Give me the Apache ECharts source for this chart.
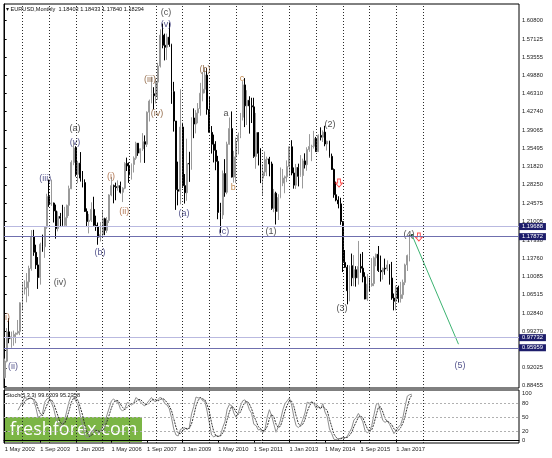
<!DOCTYPE html>
<html><head><meta charset="utf-8">
<script src="https://cdn.jsdelivr.net/npm/echarts@6/dist/echarts.min.js"></script>
<style>html,body{margin:0;padding:0;background:#fff}#c{width:552px;height:458px}</style>
</head><body><div id="c"></div>
<script>
// Monthly EURUSD, May 2002 .. Aug 2017 (index 0 = May 2002)
const openP=[
0.9010,0.9335,0.9915,0.9780,0.9820,0.9865,0.9890,0.9925,
1.0490,1.0765,1.0790,1.0905,1.1170,1.1795,1.1490,1.1240,1.0990,1.1650,1.1600,1.1990,
1.2595,1.2450,1.2465,1.2310,1.1960,1.2200,1.2165,1.2025,1.2175,1.2420,1.2750,1.3270,
1.3555,1.3035,1.3255,1.2960,1.2870,1.2300,1.2100,1.2125,1.2340,1.2025,1.1995,1.1790,
1.1840,1.2155,1.1925,1.2120,1.2625,1.2810,1.2790,1.2770,1.2810,1.2680,1.2760,1.3250,
1.3200,1.3020,1.3230,1.3355,1.3650,1.3455,1.3540,1.3680,1.3630,1.4265,1.4485,1.4630,
1.4590,1.4860,1.5180,1.5790,1.5590,1.5550,1.5750,1.5605,1.4670,1.4090,1.2730,1.2700,
1.3970,1.2810,1.2670,1.3250,1.3240,1.4150,1.4030,1.4250,1.4335,1.4640,1.4720,1.5000,
1.4320,1.3865,1.3630,1.3510,1.3290,1.2280,1.2230,1.3050,1.2680,1.3630,1.3940,1.2980,
1.3380,1.3690,1.3810,1.4165,1.4805,1.4390,1.4500,1.4390,1.4370,1.3390,1.3860,1.3450,
1.2960,1.3080,1.3330,1.3340,1.3240,1.2360,1.2660,1.2300,1.2575,1.2860,1.2960,1.2985,
1.3190,1.3580,1.3060,1.2820,1.3170,1.2995,1.3010,1.3300,1.3225,1.3525,1.3585,1.3590,
1.3745,1.3485,1.3805,1.3770,1.3870,1.3635,1.3690,1.3390,1.3130,1.2630,1.2525,1.2450,
1.2100,1.1290,1.1195,1.0730,1.1225,1.0985,1.1145,1.0985,1.1210,1.1175,1.1005,1.0565,
1.0860,1.0830,1.0870,1.1380,1.1450,1.1130,1.1105,1.1175,1.1160,1.1240,1.0980,1.0585,
1.0520,1.0795,1.0575,1.0650,1.0895,1.1240,1.1425,1.18403];
const highP=[
0.9385,0.9990,1.0185,0.9920,0.9940,0.9900,1.0150,1.0500,
1.0875,1.0935,1.1080,1.1225,1.1930,1.1935,1.1640,1.1395,1.1680,1.1840,1.1995,1.2650,
1.2930,1.2930,1.2475,1.2435,1.2300,1.2270,1.2430,1.2390,1.2435,1.2810,1.3310,1.3665,
1.3590,1.3300,1.3475,1.3100,1.2935,1.2360,1.2250,1.2480,1.2590,1.2215,1.2080,1.2090,
1.2325,1.2175,1.2190,1.2640,1.2980,1.2830,1.2870,1.2915,1.2890,1.2780,1.3275,1.3365,
1.3270,1.3250,1.3390,1.3680,1.3640,1.3545,1.3850,1.3805,1.4280,1.4515,1.4965,1.4760,
1.4930,1.5240,1.5905,1.6020,1.5820,1.5820,1.6040,1.5620,1.4865,1.4090,1.3285,1.4720,
1.4055,1.3040,1.3740,1.3480,1.4165,1.4340,1.4305,1.4445,1.4845,1.5060,1.5145,1.5140,
1.4580,1.3990,1.3820,1.3690,1.3400,1.2470,1.3110,1.3335,1.3680,1.4160,1.4280,1.3500,
1.3760,1.3860,1.4250,1.4880,1.4940,1.4700,1.4580,1.4550,1.4550,1.4250,1.3870,1.3550,
1.3235,1.3485,1.3385,1.3380,1.3285,1.2745,1.2690,1.2640,1.3170,1.3140,1.3010,1.3310,
1.3590,1.3710,1.3170,1.3240,1.3245,1.3415,1.3345,1.3450,1.3570,1.3830,1.3620,1.3895,
1.3775,1.3825,1.3965,1.3905,1.3995,1.3700,1.3700,1.3445,1.3150,1.2890,1.2600,1.2570,
1.2110,1.1535,1.1240,1.1230,1.1465,1.1435,1.1215,1.1715,1.1460,1.1495,1.1095,1.1060,
1.0985,1.1375,1.1410,1.1465,1.1615,1.1425,1.1185,1.1365,1.1330,1.1255,1.1300,1.0675,
1.0830,1.0830,1.0905,1.0950,1.1265,1.1445,1.1845,1.18433];
const lowP=[
0.8990,0.9310,0.9690,0.9600,0.9640,0.9690,0.9860,0.9850,
1.0335,1.0655,1.0500,1.0620,1.1125,1.1420,1.1160,1.0765,1.0850,1.1500,1.1380,1.1955,
1.2390,1.2410,1.2080,1.1760,1.1905,1.1990,1.2000,1.2010,1.2000,1.2210,1.2740,1.3215,
1.2990,1.2860,1.2890,1.2775,1.2290,1.1990,1.1865,1.2090,1.2000,1.1915,1.1640,1.1705,
1.1800,1.1830,1.1875,1.2070,1.2600,1.2460,1.2520,1.2710,1.2655,1.2485,1.2740,1.3100,
1.2865,1.2930,1.3070,1.3320,1.3400,1.3265,1.3500,1.3260,1.3575,1.4080,1.4440,1.4320,
1.4440,1.4510,1.5150,1.5530,1.5290,1.5300,1.5560,1.4430,1.3880,1.2330,1.2420,1.2440,
1.2765,1.2455,1.2510,1.2885,1.3125,1.3750,1.3845,1.4045,1.4195,1.4480,1.4640,1.4215,
1.3860,1.3445,1.3270,1.3115,1.2145,1.1875,1.2150,1.2590,1.2640,1.3620,1.2970,1.2870,
1.2860,1.3430,1.3750,1.4100,1.3970,1.4010,1.3840,1.4050,1.3360,1.3145,1.3210,1.2860,
1.2625,1.3000,1.3000,1.2995,1.2330,1.2285,1.2040,1.2130,1.2560,1.2800,1.2660,1.2880,
1.3000,1.3015,1.2750,1.2745,1.2795,1.2985,1.2755,1.3150,1.3105,1.3480,1.3295,1.3545,
1.3480,1.3475,1.3705,1.3675,1.3590,1.3505,1.3365,1.3125,1.2570,1.2500,1.2360,1.2035,
1.1100,1.1180,1.0460,1.0520,1.0820,1.0820,1.0810,1.0850,1.1085,1.0895,1.0560,1.0525,
1.0710,1.0810,1.0820,1.1215,1.1100,1.0910,1.0950,1.1045,1.1120,1.0850,1.0550,1.0340,
1.0340,1.0495,1.0495,1.0570,1.0840,1.1120,1.1310,1.17840];
const closeP=[
0.9335,0.9915,0.9780,0.9820,0.9865,0.9890,0.9925,1.0490,
1.0765,1.0790,1.0905,1.1170,1.1795,1.1490,1.1240,1.0990,1.1650,1.1600,1.1990,1.2595,
1.2450,1.2465,1.2310,1.1960,1.2200,1.2165,1.2025,1.2175,1.2420,1.2750,1.3270,1.3555,
1.3035,1.3255,1.2960,1.2870,1.2300,1.2100,1.2125,1.2340,1.2025,1.1995,1.1790,1.1840,
1.2155,1.1925,1.2120,1.2625,1.2810,1.2790,1.2770,1.2810,1.2680,1.2760,1.3250,1.3200,
1.3020,1.3230,1.3355,1.3650,1.3455,1.3540,1.3680,1.3630,1.4265,1.4485,1.4630,1.4590,
1.4860,1.5180,1.5790,1.5590,1.5550,1.5750,1.5605,1.4670,1.4090,1.2730,1.2700,1.3970,
1.2810,1.2670,1.3250,1.3240,1.4150,1.4030,1.4250,1.4335,1.4640,1.4720,1.5000,1.4320,
1.3865,1.3630,1.3510,1.3290,1.2280,1.2230,1.3050,1.2680,1.3630,1.3940,1.2980,1.3380,
1.3690,1.3810,1.4165,1.4805,1.4390,1.4500,1.4390,1.4370,1.3390,1.3860,1.3450,1.2960,
1.3080,1.3330,1.3340,1.3240,1.2360,1.2660,1.2300,1.2575,1.2860,1.2960,1.2985,1.3190,
1.3580,1.3060,1.2820,1.3170,1.2995,1.3010,1.3300,1.3225,1.3525,1.3585,1.3590,1.3745,
1.3485,1.3805,1.3770,1.3870,1.3635,1.3690,1.3390,1.3130,1.2630,1.2525,1.2450,1.2100,
1.1290,1.1195,1.0730,1.1225,1.0985,1.1145,1.0985,1.1210,1.1175,1.1005,1.0565,1.0860,
1.0830,1.0870,1.1380,1.1450,1.1130,1.1105,1.1175,1.1160,1.1240,1.0980,1.0585,1.0520,
1.0795,1.0575,1.0650,1.0895,1.1240,1.1425,1.1840,1.18294];
// Stochastic (5,3,3) main and signal lines, read per bar
const stochK=[
null,null,null,null,null,null,65,74,
82,93,88,90,91,86,71,50,52,58,82,89,
91,81,69,49,38,30,37,45,65,84,96,94,
84,76,53,36,12,6,8,20,23,24,16,18,
30,39,55,70,85,89,83,82,68,63,68,81,
80,76,80,92,88,83,77,74,80,86,92,85,
83,88,93,88,79,76,68,49,25,12,10,24,
26,28,23,28,57,73,93,91,92,85,84,63,
38,12,8,11,9,11,28,40,67,77,75,59,
50,59,74,85,87,80,66,58,35,32,23,24,
17,24,50,66,53,35,18,30,44,65,79,85,
91,76,51,32,28,32,45,59,82,80,83,79,
69,71,68,79,61,51,25,15,3,2,4,5,
7,6,9,18,27,44,49,58,50,40,21,17,
20,32,55,77,80,60,43,39,42,35,25,15,
22,29,34,49,73,95,98,99];
const stochD=[
null,null,null,null,null,null,null,null,
74,83,88,90,90,89,83,69,58,53,64,76,
87,87,80,66,52,39,35,37,49,65,82,91,
91,85,71,55,34,18,9,11,17,22,21,19,
21,29,41,55,70,81,86,85,78,71,66,71,
76,79,79,83,87,88,83,78,77,80,86,88,
87,85,88,90,87,81,74,64,47,29,16,15,
20,26,26,26,36,53,74,86,92,89,87,77,
62,38,19,10,9,10,16,26,45,61,73,70,
61,56,61,73,82,84,78,68,53,42,30,26,
21,22,30,47,56,51,35,28,31,46,63,76,
85,84,73,53,37,31,35,45,62,74,82,81,
77,73,69,73,69,64,46,30,14,7,3,4,
5,6,7,11,18,30,40,50,52,49,37,26,
19,23,36,55,71,72,61,47,41,39,34,25,
21,22,28,37,52,72,89,97];
const priceTicks=['1.60800','1.57125','1.53555','1.49880','1.46310','1.42740','1.39065','1.35495','1.31820','1.28250','1.24575','1.21005','1.17330','1.13760','1.10085','1.06515','1.02840','0.99270','0.95595','0.92025','0.88455'];
const stochTicks=[0,20,50,80,100];
const stochLevels=[20,50,80];
const dateTickIdx=[0,16,32,48,64,80,96,112,128,144,160,176];
const dateTicks=['1 May 2002','1 Sep 2003','1 Jan 2005','1 May 2006','1 Sep 2007','1 Jan 2009','1 May 2010','1 Sep 2011','1 Jan 2013','1 May 2014','1 Sep 2015','1 Jan 2017'];
const yearLineIdx=[8,20,32,44,56,68,80,92,104,116,128,140,152,164,176,188];
const hLineValues=[1.19688,1.17872,0.97732,0.95959];
const hLineColors=['#b9b9e0','#6f6fae','#b9b9e0','#6f6fae'];
const waveText=['(c)','(v)','(iii)','(iv)','(b)','a','c','(2)','(a)','(v)','(iii)','(i)','(ii)','(a)','b','(c)','(1)','(b)','(4)','(iv)','(3)','i)','(5)','(ii)'];
const waveX=[72.5,72.5,65.3,68.5,90.1,99.5,106.7,146.2,31.6,31.6,18.2,47.8,53.7,80.6,102.7,98.6,119.7,42.9,181.7,24.9,151.6,1.3,204.7,3.8];
const waveY=[1.6229,1.5991,1.4902,1.4248,1.5100,1.4229,1.4941,1.4011,1.3951,1.3674,1.2961,1.3000,1.2307,1.2267,1.2782,1.1911,1.1911,1.1495,1.1852,1.0901,1.0386,1.0208,0.9258,0.9238];
const waveColor=['#222','#2a2a70','#7a4a20','#7a4a20','#7a4a20','#222','#b06a20','#222','#222','#2a2a70','#2a2a70','#a0582a','#a0582a','#2a2a70','#b06a20','#2a2a70','#222','#2a2a70','#222','#222','#222','#a0582a','#2a2a70','#2a2a70'];
const trendX=[183,204];
const trendY=[1.1843,0.967];
const arrowX=[150.3,186.2];
const arrowY=[1.2862,1.1793];

const FONT='Liberation Sans';
const chart=echarts.init(document.getElementById('c'),null,{renderer:'canvas'});
const candles=openP.map((o,i)=>[i,o,closeP[i],lowP[i],highP[i]]);
const xMin=-0.3,xMax=231.2;
const yearLines=yearLineIdx.map(v=>({xAxis:v}));
const gridLineStyle={color:'#2a2a2a',width:1,type:[1,2]};
const AX=5.8;
chart.setOption({
  animation:false,
  backgroundColor:'#fff',
  grid:[
    {left:4,right:33,top:4,height:384,show:true,borderColor:'#000',borderWidth:1,backgroundColor:'#fff'},
    {left:4,right:33,top:390,height:53,show:true,borderColor:'#000',borderWidth:1,backgroundColor:'#fff'}
  ],
  xAxis:[
    {type:'value',gridIndex:0,min:xMin,max:xMax,axisLine:{show:false},axisTick:{show:false},axisLabel:{show:false},splitLine:{show:false}},
    {type:'value',gridIndex:1,min:xMin,max:xMax,axisLine:{show:true,lineStyle:{color:'#000'}},
     axisTick:{show:true,customValues:dateTickIdx,length:2,lineStyle:{color:'#000'}},
     axisLabel:{show:true,customValues:dateTickIdx,formatter:v=>dateTicks[dateTickIdx.indexOf(v)]||'',align:'left',fontSize:AX,fontFamily:FONT,color:'#222',margin:3},
     splitLine:{show:false}}
  ],
  yAxis:[
    {type:'value',gridIndex:0,position:'right',min:0.8803,max:1.6407,
     axisLine:{show:true,lineStyle:{color:'#000'}},
     axisTick:{show:true,customValues:priceTicks.map(Number),length:2,lineStyle:{color:'#000'}},
     axisLabel:{show:true,customValues:priceTicks.map(Number),formatter:v=>v.toFixed(5),fontSize:AX,fontFamily:FONT,color:'#222',margin:3},
     splitLine:{show:false}},
    {type:'value',gridIndex:1,position:'right',min:-5,max:108,
     axisLine:{show:true,lineStyle:{color:'#000'}},
     axisTick:{show:true,customValues:stochTicks,length:2,lineStyle:{color:'#000'}},
     axisLabel:{show:true,customValues:stochTicks,formatter:v=>String(v),fontSize:AX,fontFamily:FONT,color:'#222',margin:3},
     splitLine:{show:false}}
  ],
  series:[
    {type:'candlestick',xAxisIndex:0,yAxisIndex:0,data:candles,encode:{x:0,y:[1,2,3,4]},barWidth:1.4,
     itemStyle:{color:'#9a9a9a',color0:'#000',borderColor:'#9a9a9a',borderColor0:'#000',borderWidth:1},
     markLine:{silent:true,symbol:'none',animation:false,
       data:yearLines.map(d=>Object.assign({lineStyle:gridLineStyle,label:{show:false}},d)).concat(
         hLineValues.map((v,i)=>({yAxis:v,lineStyle:{color:hLineColors[i],width:1,type:'solid'},
           label:{show:true,position:'end',distance:0,formatter:v.toFixed(5),color:'#fff',backgroundColor:'#1d1d6b',padding:[1,3,0,3],fontSize:AX,fontFamily:FONT}})))
     }},
    {type:'line',xAxisIndex:0,yAxisIndex:0,data:trendX.map((x,i)=>[x,trendY[i]]),symbol:'none',lineStyle:{color:'#3cb371',width:1}},
    {type:'scatter',xAxisIndex:0,yAxisIndex:0,symbolSize:0,silent:true,
     data:waveText.map((t,i)=>({value:[waveX[i],waveY[i]],name:t,label:{color:waveColor[i]}})),
     label:{show:true,position:'inside',formatter:p=>p.name,fontSize:9,fontFamily:FONT}},
    {type:'scatter',xAxisIndex:0,yAxisIndex:0,silent:true,
     symbol:'path://M3,0 L7,0 L7,5 L10,5 L5,10 L0,5 L3,5 Z',symbolSize:[7,8],
     itemStyle:{color:'rgba(255,255,255,0)',borderColor:'#ff2020',borderWidth:1},
     data:arrowX.map((x,i)=>[x,arrowY[i]])},
    {type:'line',xAxisIndex:1,yAxisIndex:1,data:stochK.map((v,i)=>[i,v]),symbol:'none',connectNulls:false,
     lineStyle:{color:'#8e8e8e',width:1},
     markLine:{silent:true,symbol:'none',animation:false,
       data:yearLines.map(d=>Object.assign({lineStyle:gridLineStyle,label:{show:false}},d)).concat(
         stochLevels.map(v=>({yAxis:v,lineStyle:{color:'#b0b0b0',width:1,type:[2,2]},label:{show:false}})))}},
    {type:'line',xAxisIndex:1,yAxisIndex:1,data:stochD.map((v,i)=>[i,v]),symbol:'none',
     lineStyle:{color:'#333',width:1,type:[2,1]}}
  ],
  graphic:[
    {type:'text',left:6,top:6,silent:true,style:{text:'\u25BE EURUSD,Monthly  1.18403 1.18433 1.17840 1.18294',fontSize:5.6,fontFamily:FONT,fill:'#111'}},
    {type:'text',left:6,top:392,silent:true,style:{text:'Stoch(5,3,3) 99.6209 95.2358',fontSize:5.6,fontFamily:FONT,fill:'#111'}},
    {type:'rect',silent:true,shape:{x:5,y:417,width:137,height:25},style:{fill:'#7bb545'}},
    {type:'text',silent:true,x:73.5,y:429.5,style:{text:'freshforex.com',fontSize:18,fontFamily:'Open Sans',fill:'#fff',align:'center',verticalAlign:'middle'}}
  ]
});
</script></body></html>
